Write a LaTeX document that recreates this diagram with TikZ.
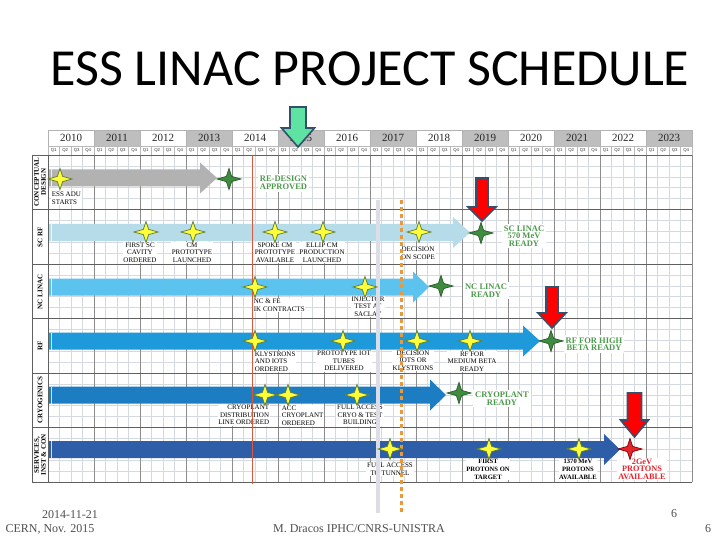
\documentclass[tikz,border=0pt]{standalone}
\usepackage{fontspec}
\setmainfont{Liberation Serif}
\newfontfamily\titlefont{Carlito}
\newfontfamily\qfont{Liberation Sans}
\definecolor{gridminor}{HTML}{D5D9E2}
\definecolor{gridmajor}{HTML}{8C8C8C}
\definecolor{yeargray}{HTML}{BEBEBE}
\definecolor{cdgray}{HTML}{B2B2B2}
\definecolor{scrf}{HTML}{B5DCE8}
\definecolor{sclinac}{HTML}{5BC3EE}
\definecolor{rfblue}{HTML}{1E9ADA}
\definecolor{cryo}{HTML}{1C7DC2}
\definecolor{serv}{HTML}{2E5EA8}
\definecolor{mgreen}{HTML}{4C9A4C}
\definecolor{mred}{HTML}{E5232A}
\definecolor{arrowedge}{HTML}{34506E}
\definecolor{mintg}{HTML}{5EE3A2}
\definecolor{redline}{HTML}{D9583F}
\definecolor{orangel}{HTML}{E8993C}
\definecolor{lgray}{HTML}{DCDDE5}
\definecolor{ystar}{HTML}{FFFF3A}
\definecolor{ystaredge}{HTML}{5E7A2C}
\definecolor{gstar}{HTML}{3E8C3E}
\definecolor{gstaredge}{HTML}{2A5A2A}
\definecolor{footgray}{HTML}{505050}
\newcommand{\ganttbar}[4]{%
  \fill[#4] (49,#1-8.5) -- (#2,#1-8.5) -- (#2,#1-15.5) -- (#3,#1) -- (#2,#1+15.5) -- (#2,#1+8.5) -- (49,#1+8.5) -- cycle;
  \draw[white,opacity=0.8,line width=1] (51.5,#1-8.5) -- (51.5,#1+8.5);}
\newcommand{\downblock}[7]{%
  \filldraw[fill=#7,draw=arrowedge,line width=1.6,line join=miter]
    (#1-#5,#2) -- (#1+#5,#2) -- (#1+#5,#3) -- (#1+#6,#3) -- (#1,#4) -- (#1-#6,#3) -- (#1-#5,#3) -- cycle;}
\tikzset{
  star4/.pic={\path[pic actions] (-12,0) -- (-2.6,-2.6) -- (0,-10.5) -- (2.6,-2.6) -- (12,0) -- (2.6,2.6) -- (0,10.5) -- (-2.6,2.6) -- cycle;},
  ys/.style={fill=ystar,draw=ystaredge,line width=0.7},
  gs/.style={fill=gstar,draw=gstaredge,line width=0.7},
  rs/.style={fill=mred,draw=red!50!black,line width=0.7},
  lbl/.style={font=\fontsize{7}{7.6}\selectfont, align=center, fill=white, inner sep=0.7pt},
  blbl/.style={font=\bfseries\fontsize{6.6}{7.6}\selectfont, align=center, fill=white, inner sep=0.7pt},
  glbl/.style={font=\bfseries\fontsize{8.5}{7.6}\selectfont, align=center, text=mgreen, fill=white, inner sep=2pt},
  rlbl/.style={font=\bfseries\fontsize{8.3}{7.6}\selectfont, align=center, text=mred, fill=white, inner sep=1pt},
  rowlbl/.style={font=\bfseries\fontsize{7}{7}\selectfont, align=center, rotate=90, inner sep=0pt},
  foot/.style={font=\fontsize{12}{12}\selectfont, text=footgray, inner sep=0pt},
}
\begin{document}
\begin{tikzpicture}[x=1pt,y=-1pt]
\fill[white] (0,0) rectangle (720,540);
\useasboundingbox (0,0) rectangle (720,540);
% title
\node[font=\titlefont\fontsize{52}{52}\selectfont, inner sep=0pt] (title) at (370,69) {ESS LINAC PROJECT SCHEDULE};
% header
\foreach \yr [count=\i from 0] in {2010,...,2023}{
  \ifodd\i
    \filldraw[fill=yeargray,draw=gray!60,line width=0.4] ({48+\i*46},130) rectangle ({48+(\i+1)*46},146);
  \else
    \draw[gray!60,line width=0.4] ({48+\i*46},130) rectangle ({48+(\i+1)*46},146);
  \fi
  \node[font=\fontsize{11}{11}\selectfont, text=black!85, inner sep=0pt] (yr\yr) at ({48+\i*46+23},138.3) {\yr};
}
\foreach \k in {0,...,55}{
  \pgfmathtruncatemacro\q{mod(\k,4)+1}
  \draw[gray!55,line width=0.4] ({48+\k*11.5},146) rectangle ({48+(\k+1)*11.5},155);
  \node[font=\qfont\fontsize{4.3}{4.3}\selectfont, text=black!80, inner sep=0pt] (q\k) at ({48+\k*11.5+5.75},150.6) {Q\q};
}
% grid
\foreach \k in {1,...,55}{
  \draw[gridminor,line width=0.45] ({48+\k*11.5},155) -- ({48+\k*11.5},482);
}
\foreach \r in {0,...,5}{
  \foreach \s in {1,...,4}{
    \draw[gridminor,line width=0.45] (48,{155+\r*54.5+\s*10.9}) -- (692,{155+\r*54.5+\s*10.9});
  }
}
\foreach \k in {0,...,14}{
  \draw[gridmajor,line width=0.6] ({48+\k*46},155) -- ({48+\k*46},482);
}
\foreach \r in {0,...,6}{
  \draw[gray!75!black,line width=0.7] (32,{155+\r*54.5}) -- (692,{155+\r*54.5});
}
\draw[gray!75!black,line width=0.7] (32,155) -- (32,482);
\draw[gray!75!black,line width=0.7] (48,155) -- (48,482);
% row labels
\node[rowlbl] (rl1) at (40,182) {CONCEPTUAL\\DESIGN};
\node[rowlbl] (rl2) at (40,237) {SC RF};
\node[rowlbl] (rl3) at (40,292) {NC LINAC};
\node[rowlbl] (rl4) at (40,346) {RF};
\node[rowlbl] (rl5) at (40,400) {CRYOGENICS};
\node[rowlbl] (rl6) at (40,455) {SERVICES,\\INST \& CON};
% bars
\ganttbar{178}{200}{217}{cdgray}
\ganttbar{232.5}{453}{470}{scrf}
\ganttbar{287}{413}{429}{sclinac}
\ganttbar{341}{523}{540}{rfblue}
\ganttbar{395}{430}{446}{cryo}
\ganttbar{449.5}{604}{620}{serv}
% labels
\node[lbl, anchor=west, align=left] (l1) at (51,198) {ESS ADU\\STARTS};
\node[glbl] (g1) at (283.5,183) {RE-DESIGN\\APPROVED};
\node[lbl] (l2) at (140,252.5) {FIRST SC\\CAVITY\\ORDERED};
\node[lbl] (l3) at (192,252.5) {CM\\PROTOTYPE\\LAUNCHED};
\node[lbl] (l4) at (275,252.5) {SPOKE CM\\PROTOTYPE\\AVAILABLE};
\node[lbl] (l5) at (322,252.5) {ELLIP CM\\PRODUCTION\\LAUNCHED};
\node[lbl] (l6) at (418,253) {DECISION\\ON SCOPE};
\node[glbl] (g2) at (524,236) {SC LINAC\\570 MeV\\READY};
\node[lbl, anchor=west, align=left] (l7) at (253,305) {NC \& FE\\IK CONTRACTS};
\node[lbl] (l8) at (368,306.5) {INJECTOR\\TEST AT\\SACLAY};
\node[glbl] (g3) at (486,290.5) {NC LINAC\\READY};
\node[lbl, anchor=west, align=left] (l9) at (254,361.5) {KLYSTRONS\\AND IOTS\\ORDERED};
\node[lbl] (l10) at (344,361) {PROTOTYPE IOT\\TUBES\\DELIVERED};
\node[lbl] (l11) at (413,360.7) {DECISION\\IOTS OR\\KLYSTRONS};
\node[lbl] (l12) at (472,361.5) {RF FOR\\MEDIUM BETA\\READY};
\node[glbl] (g4) at (594,344) {RF FOR HIGH\\BETA READY};
\node[lbl, anchor=east, align=right] (l13) at (270,415) {CRYOPLANT\\DISTRIBUTION\\LINE ORDERED};
\node[lbl, anchor=west, align=left] (l14) at (281,415.7) {ACC\\CRYOPLANT\\ORDERED};
\node[lbl] (l15) at (360,415) {FULL ACCESS\\CRYO \& TEST\\BUILDING};
\node[glbl] (g5) at (502,398.5) {CRYOPLANT\\READY};
\node[lbl] (l16) at (390,469) {FULL ACCESS\\TO TUNNEL};
\node[blbl] (l17) at (488,469.3) {FIRST\\PROTONS ON\\TARGET};
\node[blbl] (l18) at (578,469.3) {1370 MeV\\PROTONS\\AVAILABLE};
\node[rlbl] (r1) at (642,469) {2GeV\\PROTONS\\AVAILABLE};
% vertical marker lines
\draw[redline,line width=1.5] (252.5,155) -- (252.5,484);
\draw[lgray,line width=4] (378,200) -- (378,513);
\draw[orangel,line width=3.5,dash pattern=on 4pt off 3pt] (401.5,200) -- (401.5,513);
% stars
\foreach \p in {(60,179),(146,232),(193,232),(275,232),(323,232),(419,232),(255,287),(365,287),(255,341),(343,341),(417,341),(470,341),(265,395),(288,395),(357,395),(390,449),(489,449),(579,449)}{
  \pic[ys] at \p {star4};
}
\foreach \p in {(229,179),(481,233),(441,286),(551,341),(459,393)}{
  \pic[gs] at \p {star4};
}
\pic[rs] at (630,449) {star4};
% block arrows
\downblock{298}{107}{128}{147}{8}{16.5}{mintg}
\downblock{482}{178}{207}{221}{6}{14}{red}
\downblock{552}{287}{313}{328}{6}{14}{red}
\downblock{634.5}{393}{420}{437}{7}{14}{red}
% footer
\node[foot] (date) at (70,515) {2014-11-21};
\node[foot] (cern) at (50,529) {CERN, Nov. 2015};
\node[foot] (auth) at (359,529) {M. Dracos IPHC/CNRS-UNISTRA};
\node[foot] (pg1) at (674,514) {6};
\node[foot] (pg2) at (708,529) {6};
\end{tikzpicture}
\end{document}
